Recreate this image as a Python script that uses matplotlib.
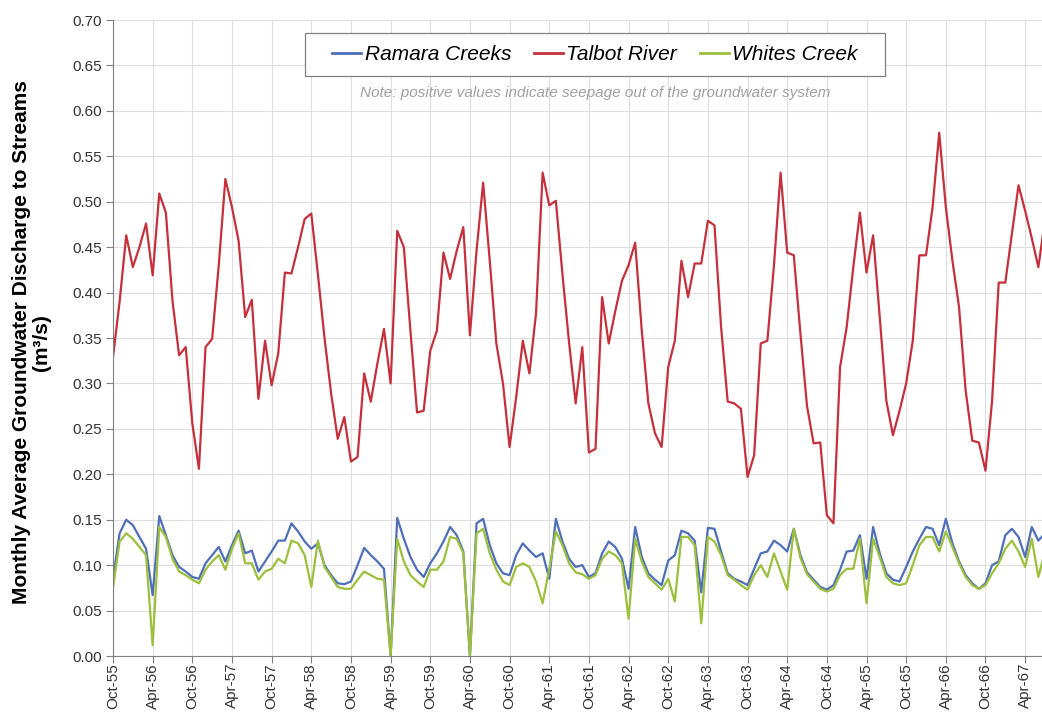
import numpy as np
import pandas as pd
import matplotlib
matplotlib.use('Agg')
import matplotlib.pyplot as plt
from matplotlib.patches import Rectangle

plt.rcParams['font.family'] = ['Liberation Sans', 'DejaVu Sans']

# monthly values from Oct-55
months = pd.date_range('1955-10-01', periods=142, freq='MS')
labels = [d.strftime('%b-%y') for d in months]

talbot = [
    0.329, 0.390, 0.463, 0.428, 0.450, 0.476, 0.419, 0.509, 0.488, 0.391,
    0.331, 0.340, 0.256, 0.206, 0.340, 0.349, 0.430, 0.525, 0.494, 0.457,
    0.373, 0.392, 0.283, 0.347, 0.298, 0.333, 0.422, 0.421, 0.450, 0.481,
    0.487, 0.420, 0.350, 0.289, 0.239, 0.263, 0.214, 0.219, 0.311, 0.280,
    0.322, 0.360, 0.300, 0.468, 0.450, 0.358, 0.268, 0.270, 0.336, 0.358,
    0.444, 0.415, 0.446, 0.472, 0.353, 0.446, 0.521, 0.435, 0.344, 0.300,
    0.230, 0.285, 0.347, 0.311, 0.377, 0.532, 0.496, 0.501, 0.420, 0.345,
    0.278, 0.340, 0.224, 0.228, 0.395, 0.344, 0.380, 0.413, 0.430, 0.455,
    0.358, 0.278, 0.245, 0.230, 0.318, 0.347, 0.435, 0.395, 0.432, 0.432,
    0.479, 0.474, 0.362, 0.280, 0.278, 0.272, 0.197, 0.221, 0.344, 0.347,
    0.430, 0.532, 0.444, 0.441, 0.355, 0.275, 0.234, 0.235, 0.155, 0.146,
    0.318, 0.362, 0.428, 0.488, 0.422, 0.463, 0.373, 0.281, 0.243, 0.270,
    0.300, 0.347, 0.441, 0.441, 0.494, 0.576, 0.494, 0.435, 0.384, 0.292,
    0.237, 0.235, 0.204, 0.281, 0.411, 0.411, 0.465, 0.518, 0.490, 0.460,
    0.428, 0.480]

ramara = [
    0.085, 0.135, 0.150, 0.144, 0.131, 0.118, 0.067, 0.154, 0.133, 0.111,
    0.098, 0.093, 0.087, 0.085, 0.102, 0.111, 0.120, 0.104, 0.122, 0.138,
    0.113, 0.116, 0.093, 0.104, 0.115, 0.127, 0.127, 0.146, 0.137, 0.126,
    0.118, 0.124, 0.100, 0.089, 0.080, 0.079, 0.082, 0.100, 0.119, 0.111,
    0.104, 0.096, 0.000, 0.152, 0.129, 0.109, 0.095, 0.087, 0.102, 0.113,
    0.126, 0.142, 0.133, 0.115, 0.000, 0.146, 0.151, 0.122, 0.102, 0.091,
    0.089, 0.111, 0.124, 0.116, 0.109, 0.113, 0.085, 0.151, 0.126, 0.107,
    0.098, 0.100, 0.087, 0.091, 0.113, 0.126, 0.120, 0.107, 0.074, 0.142,
    0.109, 0.091, 0.084, 0.078, 0.105, 0.111, 0.138, 0.135, 0.127, 0.070,
    0.141, 0.140, 0.115, 0.091, 0.085, 0.082, 0.078, 0.096, 0.113, 0.115,
    0.127, 0.122, 0.115, 0.140, 0.111, 0.092, 0.084, 0.076, 0.073, 0.078,
    0.095, 0.115, 0.116, 0.133, 0.085, 0.142, 0.113, 0.091, 0.084, 0.082,
    0.098, 0.115, 0.129, 0.142, 0.140, 0.122, 0.151, 0.124, 0.104, 0.089,
    0.080, 0.074, 0.080, 0.100, 0.104, 0.133, 0.140, 0.131, 0.109, 0.142,
    0.127, 0.135]

whites = [
    0.075, 0.126, 0.135, 0.129, 0.120, 0.111, 0.012, 0.142, 0.131, 0.107,
    0.093, 0.089, 0.084, 0.080, 0.095, 0.104, 0.111, 0.095, 0.118, 0.135,
    0.102, 0.102, 0.084, 0.093, 0.096, 0.107, 0.102, 0.127, 0.124, 0.111,
    0.076, 0.127, 0.098, 0.087, 0.076, 0.074, 0.074, 0.084, 0.093, 0.089,
    0.085, 0.084, 0.000, 0.129, 0.104, 0.089, 0.082, 0.076, 0.095, 0.095,
    0.104, 0.131, 0.129, 0.113, 0.000, 0.135, 0.140, 0.113, 0.095, 0.082,
    0.078, 0.098, 0.102, 0.098, 0.082, 0.058, 0.096, 0.137, 0.122, 0.102,
    0.092, 0.090, 0.085, 0.089, 0.107, 0.115, 0.111, 0.102, 0.041, 0.129,
    0.104, 0.087, 0.080, 0.073, 0.085, 0.060, 0.131, 0.131, 0.122, 0.036,
    0.131, 0.126, 0.111, 0.089, 0.084, 0.078, 0.073, 0.089, 0.100, 0.087,
    0.113, 0.093, 0.073, 0.140, 0.108, 0.090, 0.082, 0.074, 0.071, 0.074,
    0.089, 0.096, 0.096, 0.129, 0.058, 0.129, 0.109, 0.087, 0.080, 0.078,
    0.080, 0.100, 0.122, 0.131, 0.131, 0.115, 0.137, 0.120, 0.102, 0.087,
    0.078, 0.074, 0.078, 0.091, 0.102, 0.118, 0.127, 0.115, 0.098, 0.129,
    0.087, 0.115]

x = np.arange(len(months))

fig = plt.figure(figsize=(10.42, 7.15), dpi=100)
ax = fig.add_axes([113/1042, 59/715, 929/1042, 636/715])

ax.plot(x, ramara, color='#4f6fb8', lw=1.6, label='Ramara Creeks')
ax.plot(x, talbot, color='#c4303c', lw=1.6, label='Talbot River')
ax.plot(x, whites, color='#9cbf3c', lw=1.6, label='Whites Creek')

ax.set_xlim(0, 140.55)
ax.set_ylim(0, 0.70)
ax.set_yticks(np.arange(0, 0.701, 0.05))
ax.yaxis.set_major_formatter(matplotlib.ticker.FormatStrFormatter('%.2f'))
ax.set_xticks(x[::6])
ax.set_xticklabels(labels[::6], rotation=90)
ax.tick_params(axis='both', labelsize=11, colors='#808080', labelcolor='#333333',
               length=5, width=0.8)
ax.tick_params(axis='x', pad=0)
ax.tick_params(axis='y', pad=3)
ax.grid(True, color='#dedede', lw=0.8)
ax.set_axisbelow(True)
for s in ['top', 'right']:
    ax.spines[s].set_visible(False)
for s in ['left', 'bottom']:
    ax.spines[s].set_color('#808080')

fig.text(0.030, 0.521, 'Monthly Average Groundwater Discharge to Streams\n(m³/s)',
         rotation=90, ha='center', va='center', multialignment='center',
         fontsize=15, fontweight='bold', linespacing=1.05)

# legend box
box = Rectangle((305/1042, 1 - 76/715), 580/1042, 43/715,
                transform=fig.transFigure, facecolor='white',
                edgecolor='#808080', lw=0.9, zorder=4, clip_on=False)
ax.add_patch(box)
leg = ax.legend(loc='center', bbox_to_anchor=(595/1042, 1 - 54.5/715),
                bbox_transform=fig.transFigure, ncol=3,
                prop={'style': 'italic', 'size': 15}, handlelength=1.4,
                handletextpad=0.15, columnspacing=1.1, frameon=False)
leg.set_zorder(6)
for h in leg.get_lines():
    h.set_linewidth(2)

ax.text(0.519, 0.885, 'Note: positive values indicate seepage out of the groundwater system',
        transform=ax.transAxes, ha='center', va='center', fontsize=11,
        style='italic', color='#a0a0a0')

fig.savefig('out.png', dpi=100)
